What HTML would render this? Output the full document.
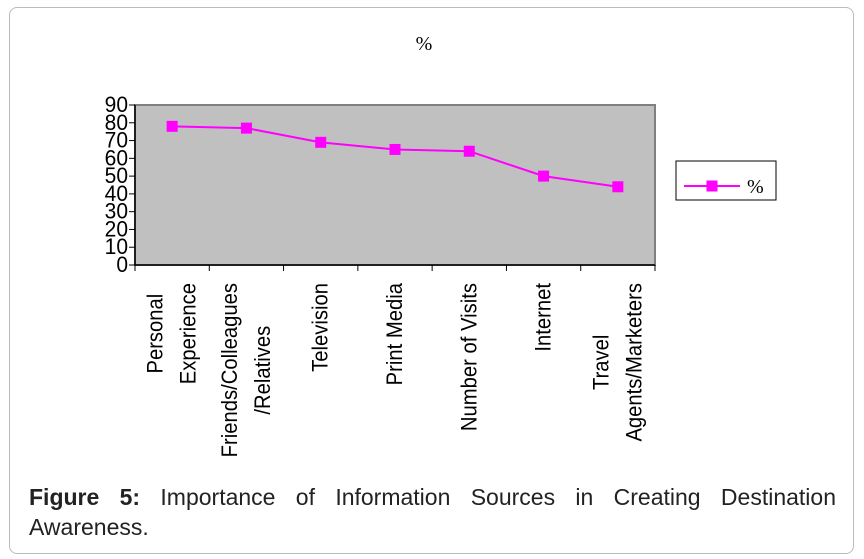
<!DOCTYPE html>
<html><head><meta charset="utf-8"><style>
body{margin:0;background:#fff;width:864px;height:559px;overflow:hidden;font-family:"Liberation Sans",Arial,sans-serif}
#card{position:absolute;left:9px;top:7px;width:843px;height:545px;border:1px solid #bbb;border-radius:8px}
#cap{position:absolute;left:29px;top:482px;width:807px;font-size:23px;line-height:30px;text-align:justify;text-align-last:left;color:#222}
</style></head><body>
<div id="card"></div>
<svg id="chart" width="864" height="480" style="position:absolute;left:0;top:0"></svg>
<div id="cap"><b>Figure 5:</b> Importance of Information Sources in Creating Destination Awareness.</div>
<script>
const categories=[["Personal","Experience"],["Friends/Colleagues","/Relatives"],["Television"],["Print Media"],["Number of Visits"],["Internet"],["Travel","Agents/Marketers"]];
const values=[78,77,69,65,64,50,44];
const yTicks=[0,10,20,30,40,50,60,70,80,90];
const svg=document.getElementById('chart');
const NS='http://www.w3.org/2000/svg';
const L=135,R=655,T=105,B=265,ymax=90;
const y=v=>B-(v/ymax)*(B-T);
const bw=(R-L)/categories.length;
const x=i=>L+bw*(i+0.5);
function mk(t,a,p){const e=document.createElementNS(NS,t);for(const k in a)e.setAttribute(k,a[k]);(p||svg).appendChild(e);return e;}
let e=mk('text',{x:424,y:50,'text-anchor':'middle','font-family':'Liberation Serif,serif','font-size':20});e.textContent='%';


e=mk('rect',{x:L,y:T,width:R-L,height:B-T,fill:'#c0c0c0',stroke:'#808080','stroke-width':2});


mk('line',{x1:L,y1:T,x2:L,y2:B,stroke:'#000','stroke-width':1.5});
mk('line',{x1:L,y1:B,x2:R,y2:B,stroke:'#000','stroke-width':1.5});
yTicks.forEach(v=>{
 mk('line',{x1:L-6,y1:y(v),x2:L,y2:y(v),stroke:'#000'});
 const t=mk('text',{x:L-7,y:y(v)+7,'text-anchor':'end','font-size':21,transform:`translate(0,${y(v)+7}) scale(1,1.05) translate(0,${-(y(v)+7)})`});t.textContent=v;
 
 
});
for(let i=0;i<=categories.length;i++)mk('line',{x1:L+bw*i,y1:B,x2:L+bw*i,y2:B+6,stroke:'#000'});
const SX=0.92;
categories.forEach((c,i)=>{
 const items=c.map((s,j)=>{
  const cx=x(i)+(j-(c.length-1)/2)*33+7;
  const t=mk('text',{'text-anchor':'middle','font-size':22});t.textContent=s;
  
  
  return [t,cx];
 });
 const maxLen=Math.max(...items.map(([t])=>t.getComputedTextLength()))*SX;
 const cy=283+maxLen/2;
 items.forEach(([t,cx])=>t.setAttribute('transform',`translate(${cx},${cy}) rotate(-90) scale(${SX},1)`));
});
const pl=mk('polyline',{points:values.map((v,i)=>x(i)+','+y(v)).join(' '),fill:'none',stroke:'#ff00ff','stroke-width':2});


values.forEach((v,i)=>{
 const m=mk('rect',{x:x(i)-5.5,y:y(v)-5.5,width:11,height:11,fill:'#ff00ff'});
 
 
});
const lg=mk('g',{});


mk('rect',{x:676,y:161,width:100,height:39,fill:'#fff',stroke:'#000'},lg);
mk('line',{x1:684,y1:186,x2:740,y2:186,stroke:'#ff00ff','stroke-width':2},lg);
mk('rect',{x:706.5,y:180.5,width:11,height:11,fill:'#ff00ff'},lg);
e=mk('text',{x:747,y:193,'font-family':'Liberation Serif,serif','font-size':20},lg);e.textContent='%';
</script>
</body></html>
